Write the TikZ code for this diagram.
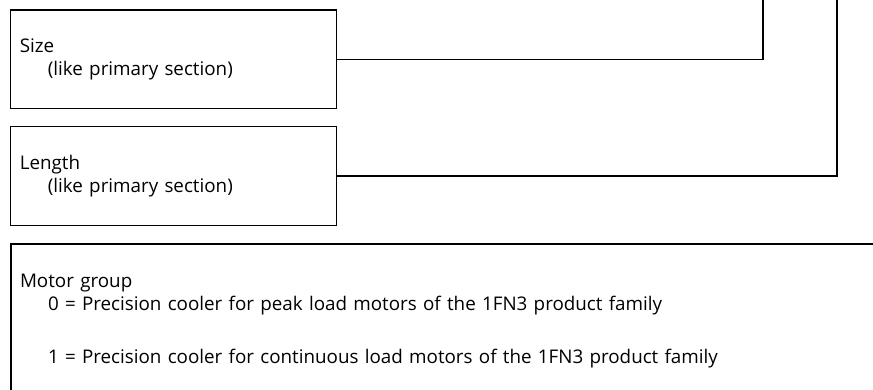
\documentclass[tikz,border=0pt]{standalone}
\usepackage{fontspec}
\setmainfont{Open Sans}
\usetikzlibrary{positioning, calc}

\def\codefont{\fontsize{18.8}{23.5}\selectfont}
\def\subindent{\hspace*{28pt}}

\tikzset{
    codebox/.style={draw=black, line width=1.2pt, minimum width=326.5pt, minimum height=98.5pt,
        inner xsep=9.5pt, text width=307pt, align=left, anchor=north west, font=\codefont},
    groupbox/.style={draw=black, line width=2pt, inner xsep=9.5pt, inner ysep=30pt,
        text width=900pt, align=left, anchor=north west, font=\codefont},
    wire/.style={black, line width=1.2pt}
}

\begin{document}
\begin{tikzpicture}[x=1pt, y=-1pt]
    \useasboundingbox (0,0) rectangle (873,390);
    \clip (0,0) rectangle (873,390);

    % code positions
    \node[codebox] (size) at (9.5,9.5) {Size\\\subindent(like primary section)};
    \node[codebox, below=17pt of size] (length) {Length\\\subindent(like primary section)};
    \node[groupbox, below=17pt of length.south west, anchor=north west] (group) {Motor group\\
        \subindent0 = Precision cooler for peak load motors of the 1FN3 product family\\[29.5pt]
        \subindent1 = Precision cooler for continuous load motors of the 1FN3 product family};

    % leads up to the order code
    \coordinate (sizetop) at (763,-3);
    \coordinate (lengthtop) at (837,-3);
    \draw[wire] (size.east) -| (sizetop);
    \draw[wire] (length.east) -| (lengthtop);
\end{tikzpicture}
\end{document}
